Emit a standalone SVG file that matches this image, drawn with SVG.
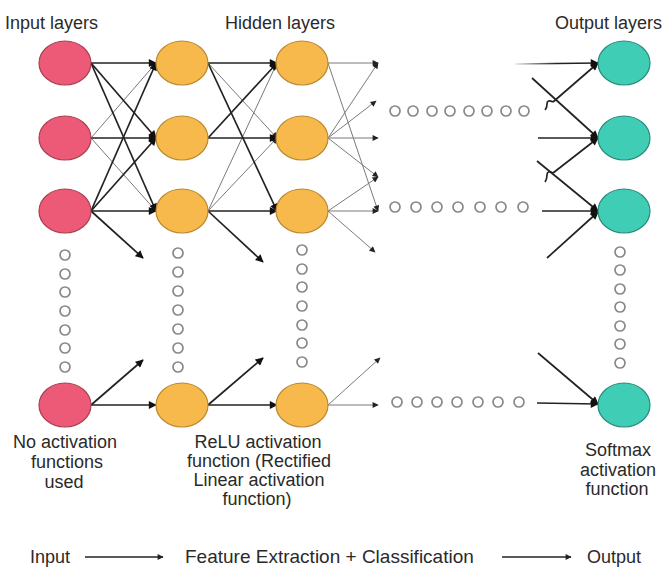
<svg xmlns="http://www.w3.org/2000/svg" width="662" height="570" viewBox="0 0 662 570">
<defs>
<style>
text{font-family:"Liberation Sans",Arial,sans-serif;font-size:18px;fill:#2a2a2a}
.in{fill:#EC5A77;stroke:#A8404F;stroke-width:1.2}
.hid{fill:#F8B94C;stroke:#B88A30;stroke-width:1.2}
.out{fill:#3FCDB6;stroke:#2A8A7B;stroke-width:1.2}
.b{stroke:#222;stroke-width:1.7;fill:none}
.g{stroke:#7a7a7a;stroke-width:1;fill:none}
.dot{fill:#fff;stroke:#888;stroke-width:1.7}
</style>
<marker id="ab" viewBox="0 0 10 10" refX="9" refY="5" markerWidth="9" markerHeight="8" markerUnits="userSpaceOnUse" orient="auto"><path d="M0,0 L10,5 L0,10 z" fill="#111"/></marker>
<marker id="ag" viewBox="0 0 10 10" refX="9" refY="5" markerWidth="7" markerHeight="6" markerUnits="userSpaceOnUse" orient="auto"><path d="M0,0 L10,5 L0,10 z" fill="#222"/></marker>
<linearGradient id="fade" x1="0" y1="0" x2="1" y2="0"><stop offset="0" stop-color="#222" stop-opacity="0.1"/><stop offset="0.5" stop-color="#222"/></linearGradient>
</defs>
<rect width="662" height="570" fill="#fff"/>

<g id="connectors">
<line class="g" x1="91" y1="138" x2="156" y2="63" marker-end="url(#ag)"/>
<line class="g" x1="91" y1="138" x2="156" y2="211" marker-end="url(#ag)"/>
<line class="b" x1="91" y1="63" x2="156" y2="63" marker-end="url(#ab)"/>
<line class="b" x1="91" y1="63" x2="156" y2="138" marker-end="url(#ab)"/>
<line class="b" x1="91" y1="63" x2="156" y2="211" marker-end="url(#ab)"/>
<line class="b" x1="91" y1="138" x2="156" y2="138" marker-end="url(#ab)"/>
<line class="b" x1="91" y1="211" x2="156" y2="63" marker-end="url(#ab)"/>
<line class="b" x1="91" y1="211" x2="156" y2="138" marker-end="url(#ab)"/>
<line class="b" x1="91" y1="211" x2="156" y2="211" marker-end="url(#ab)"/>
<line class="b" x1="91" y1="211" x2="143" y2="258" marker-end="url(#ab)"/>
<line class="b" x1="91" y1="405" x2="156" y2="405" marker-end="url(#ab)"/>
<line class="b" x1="91" y1="405" x2="143" y2="360" marker-end="url(#ab)"/>
<line class="g" x1="208" y1="63" x2="277" y2="138" marker-end="url(#ag)"/>
<line class="g" x1="208" y1="211" x2="277" y2="63" marker-end="url(#ag)"/>
<line class="g" x1="208" y1="211" x2="277" y2="138" marker-end="url(#ag)"/>
<line class="b" x1="208" y1="63" x2="277" y2="63" marker-end="url(#ab)"/>
<line class="b" x1="208" y1="63" x2="277" y2="211" marker-end="url(#ab)"/>
<line class="b" x1="208" y1="138" x2="277" y2="63" marker-end="url(#ab)"/>
<line class="b" x1="208" y1="138" x2="277" y2="138" marker-end="url(#ab)"/>
<line class="b" x1="208" y1="211" x2="277" y2="211" marker-end="url(#ab)"/>
<line class="b" x1="208" y1="211" x2="263" y2="262" marker-end="url(#ab)"/>
<line class="b" x1="208" y1="405" x2="277" y2="405" marker-end="url(#ab)"/>
<line class="b" x1="208" y1="405" x2="263" y2="358" marker-end="url(#ab)"/>
<line class="g" x1="328" y1="63" x2="378" y2="63" marker-end="url(#ag)"/>
<line class="g" x1="328" y1="63" x2="378" y2="211" marker-end="url(#ag)"/>
<line class="g" x1="328" y1="138" x2="378" y2="63" marker-end="url(#ag)"/>
<line class="g" x1="328" y1="138" x2="376" y2="101" marker-end="url(#ag)"/>
<line class="g" x1="328" y1="138" x2="378" y2="138" marker-end="url(#ag)"/>
<line class="g" x1="328" y1="138" x2="378" y2="177" marker-end="url(#ag)"/>
<line class="g" x1="328" y1="211" x2="378" y2="177" marker-end="url(#ag)"/>
<line class="g" x1="328" y1="211" x2="378" y2="211" marker-end="url(#ag)"/>
<line class="g" x1="328" y1="211" x2="375" y2="252" marker-end="url(#ag)"/>
<line class="g" x1="328" y1="405" x2="378" y2="405" marker-end="url(#ag)"/>
<line class="g" x1="328" y1="405" x2="380" y2="358" marker-end="url(#ag)"/>
<line x1="515" y1="64" x2="598" y2="63" stroke="url(#fade)" stroke-width="1.7" marker-end="url(#ab)"/>
<path class="b" d="M553,102 L598,63" marker-end="url(#ab)"/>
<path class="b" d="M553,102 q-6,-3 -6,2 q0,4 -2,6"/>
<line class="b" x1="532" y1="78" x2="598" y2="138" marker-end="url(#ab)"/>
<line class="b" x1="538" y1="138" x2="598" y2="138" marker-end="url(#ab)"/>
<path class="b" d="M553,173 L598,138" marker-end="url(#ab)"/>
<path class="b" d="M553,173 q-6,-3 -6,2 q0,4 -2,7"/>
<line class="b" x1="537" y1="161" x2="598" y2="211" marker-end="url(#ab)"/>
<line class="b" x1="542" y1="211" x2="598" y2="211" marker-end="url(#ab)"/>
<line class="b" x1="547" y1="258" x2="598" y2="212" marker-end="url(#ab)"/>
<line class="b" x1="538" y1="353" x2="598" y2="404" marker-end="url(#ab)"/>
<line class="b" x1="537" y1="403" x2="598" y2="404" marker-end="url(#ab)"/>
<line x1="85" y1="557" x2="163" y2="557" stroke="#222" stroke-width="1.3" marker-end="url(#ag)"/>
<line x1="502" y1="557" x2="571" y2="557" stroke="#222" stroke-width="1.3" marker-end="url(#ag)"/>
</g>

<g id="dots">
<circle class="dot" cx="65" cy="255" r="5"/><circle class="dot" cx="65" cy="274" r="5"/><circle class="dot" cx="65" cy="292" r="5"/><circle class="dot" cx="65" cy="311" r="5"/><circle class="dot" cx="65" cy="330" r="5"/><circle class="dot" cx="65" cy="348" r="5"/><circle class="dot" cx="65" cy="367" r="5"/>
<circle class="dot" cx="178" cy="253" r="5"/><circle class="dot" cx="178" cy="272" r="5"/><circle class="dot" cx="178" cy="291" r="5"/><circle class="dot" cx="178" cy="310" r="5"/><circle class="dot" cx="178" cy="329" r="5"/><circle class="dot" cx="178" cy="348" r="5"/><circle class="dot" cx="178" cy="367" r="5"/>
<circle class="dot" cx="302" cy="250" r="5"/><circle class="dot" cx="302" cy="269" r="5"/><circle class="dot" cx="302" cy="287" r="5"/><circle class="dot" cx="302" cy="306" r="5"/><circle class="dot" cx="302" cy="325" r="5"/><circle class="dot" cx="302" cy="343" r="5"/><circle class="dot" cx="302" cy="362" r="5"/>
<circle class="dot" cx="620" cy="252" r="5"/><circle class="dot" cx="620" cy="270" r="5"/><circle class="dot" cx="620" cy="289" r="5"/><circle class="dot" cx="620" cy="307" r="5"/><circle class="dot" cx="620" cy="326" r="5"/><circle class="dot" cx="620" cy="344" r="5"/><circle class="dot" cx="620" cy="363" r="5"/>
<circle class="dot" cx="395" cy="111" r="5"/><circle class="dot" cx="413" cy="111" r="5"/><circle class="dot" cx="432" cy="111" r="5"/><circle class="dot" cx="450" cy="111" r="5"/><circle class="dot" cx="469" cy="111" r="5"/><circle class="dot" cx="487" cy="111" r="5"/><circle class="dot" cx="506" cy="111" r="5"/><circle class="dot" cx="524" cy="111" r="5"/>
<circle class="dot" cx="395" cy="207" r="5"/><circle class="dot" cx="416" cy="207" r="5"/><circle class="dot" cx="437" cy="207" r="5"/><circle class="dot" cx="458" cy="207" r="5"/><circle class="dot" cx="480" cy="207" r="5"/><circle class="dot" cx="501" cy="207" r="5"/><circle class="dot" cx="523" cy="207" r="5"/>
<circle class="dot" cx="397" cy="402" r="5"/><circle class="dot" cx="417" cy="402" r="5"/><circle class="dot" cx="437" cy="402" r="5"/><circle class="dot" cx="457" cy="402" r="5"/><circle class="dot" cx="478" cy="402" r="5"/><circle class="dot" cx="498" cy="402" r="5"/><circle class="dot" cx="519" cy="402" r="5"/>
</g>

<g id="in1"><ellipse class="in" cx="65" cy="63" rx="26" ry="22"/></g>
<g id="in2"><ellipse class="in" cx="65" cy="138" rx="26" ry="22"/></g>
<g id="in3"><ellipse class="in" cx="65" cy="211" rx="26" ry="22"/></g>
<g id="inN"><ellipse class="in" cx="65" cy="405" rx="26" ry="22"/></g>
<g id="h1a"><ellipse class="hid" cx="182" cy="63" rx="26" ry="22"/></g>
<g id="h1b"><ellipse class="hid" cx="182" cy="138" rx="26" ry="22"/></g>
<g id="h1c"><ellipse class="hid" cx="182" cy="211" rx="26" ry="22"/></g>
<g id="h1N"><ellipse class="hid" cx="182" cy="405" rx="26" ry="22"/></g>
<g id="h2a"><ellipse class="hid" cx="302" cy="63" rx="26" ry="22"/></g>
<g id="h2b"><ellipse class="hid" cx="302" cy="138" rx="26" ry="22"/></g>
<g id="h2c"><ellipse class="hid" cx="302" cy="211" rx="26" ry="22"/></g>
<g id="h2N"><ellipse class="hid" cx="302" cy="405" rx="26" ry="22"/></g>
<g id="o1"><ellipse class="out" cx="624" cy="63" rx="26" ry="22"/></g>
<g id="o2"><ellipse class="out" cx="624" cy="138" rx="26" ry="22"/></g>
<g id="o3"><ellipse class="out" cx="624" cy="211" rx="26" ry="22"/></g>
<g id="oN"><ellipse class="out" cx="624" cy="405" rx="26" ry="22"/></g>

<g id="labels">
<text x="5" y="29">Input layers</text>
<text x="225" y="29">Hidden layers</text>
<text x="555" y="29">Output layers</text>
<g text-anchor="middle">
<text x="65" y="448">No activation</text>
<text x="67" y="468">functions</text>
<text x="64" y="488">used</text>
<text x="258" y="448">ReLU activation</text>
<text x="259" y="467">function (Rectified</text>
<text x="259" y="486">Linear activation</text>
<text x="257" y="505">function)</text>
<text x="618" y="456">Softmax</text>
<text x="618" y="476">activation</text>
<text x="617" y="495">function</text>
</g>
<text x="30" y="563">Input</text>
<text x="185" y="563" style="font-size:19px">Feature Extraction + Classification</text>
<text x="587" y="563">Output</text>
</g>
</svg>
